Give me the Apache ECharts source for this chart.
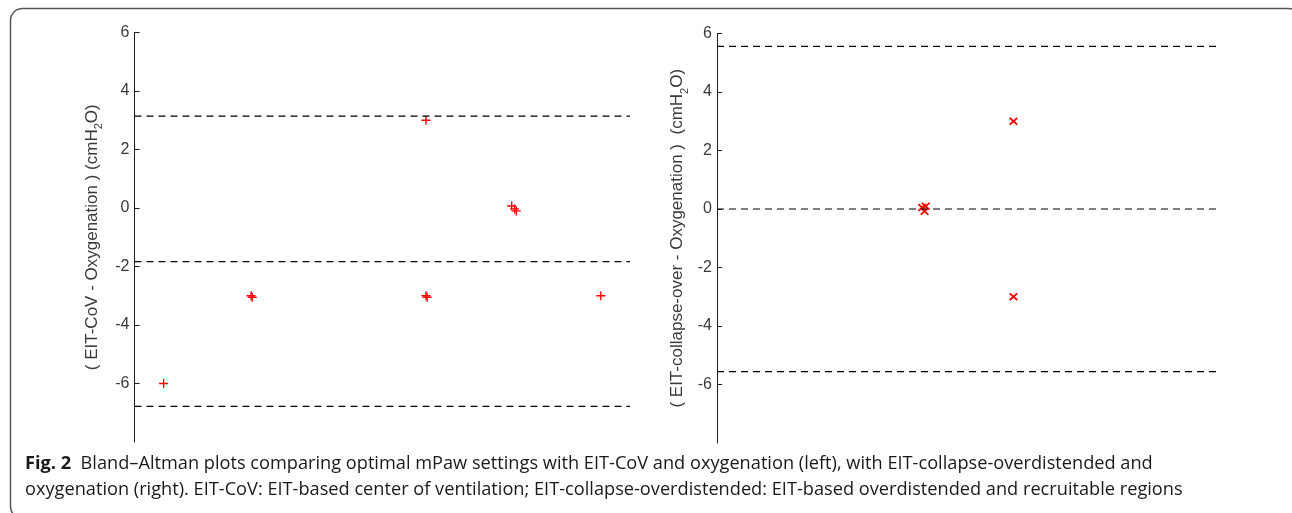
<!DOCTYPE html>
<html>
<head>
<meta charset="utf-8">
<script src="https://cdn.jsdelivr.net/npm/echarts@6/dist/echarts.min.js"></script>
<style>
html,body{margin:0;padding:0;background:#fff;}
#c{width:1292px;height:513px;}
</style>
</head>
<body>
<div id="c"></div>
<script>
// ---- data ----
var xRange = [14.5, 23];
var yTicks = [-6, -4, -2, 0, 2, 4, 6];
var yRange = [-8, 6];

// Left panel: EIT-CoV vs Oxygenation  [mean, difference]
var leftX = [15, 16.5, 16.52, 19.5, 19.52, 19.5, 20.97, 21.02, 21.05, 22.5];
var leftY = [-6, -3, -3.05, -3, -3.05, 3, 0.07, -0.03, -0.1, -3];
var leftLimits = [3.14, -1.83, -6.78]; // upper LoA, mean bias, lower LoA

// Right panel: EIT-collapse-over vs Oxygenation
var rightX = [17.96, 18.02, 18.0, 19.5, 19.5];
var rightY = [0.05, 0.09, -0.08, 3, -3];
var rightLimits = [5.56, 0, -5.56];

var leftName = '( EIT-CoV - Oxygenation ) (cmH{s|2}O)';
var rightName = '( EIT-collapse-over - Oxygenation )  (cmH{s|2}O)';
var captionBold = 'Fig. 2';
var captionLine1 = '  Bland\u2013Altman plots comparing optimal mPaw settings with EIT-CoV and oxygenation (left), with EIT-collapse-overdistended and';
var captionLine2 = 'oxygenation (right). EIT-CoV: EIT-based center of ventilation; EIT-collapse-overdistended: EIT-based overdistended and recruitable regions';

// ---- build ----
function pairs(xs, ys){ return xs.map(function(x,i){ return [x, ys[i]]; }); }
var labelColor = '#3a3a3a';
var axisColor = '#1e1e1e';

var plusPath = 'path://M4.25 0 L5.75 0 L5.75 4.25 L10 4.25 L10 5.75 L5.75 5.75 L5.75 10 L4.25 10 L4.25 5.75 L0 5.75 L0 4.25 L4.25 4.25 Z';
var crossPath = 'path://M0 1.5 L1.5 0 L5 3.5 L8.5 0 L10 1.5 L6.5 5 L10 8.5 L8.5 10 L5 6.5 L1.5 10 L0 8.5 L3.5 5 Z';

function yAxis(gi, name, gap){
  return {
    type:'value', gridIndex:gi, min:yRange[0], max:yRange[1], interval:2,
    name:name, nameLocation:'middle', nameGap:gap, nameRotate:90,
    nameTextStyle:{fontFamily:'Liberation Sans', fontSize:17, color:labelColor,
      rich:{s:{fontFamily:'Liberation Sans', fontSize:11, color:labelColor, verticalAlign:'bottom', lineHeight:25}}},
    axisLine:{show:true, onZero:false, lineStyle:{color:axisColor, width:1}},
    axisTick:{show:true, inside:true, length:5, customValues:yTicks, lineStyle:{color:axisColor}},
    axisLabel:{customValues:yTicks, fontFamily:'Liberation Sans', fontSize:16, color:labelColor, margin:5},
    splitLine:{show:false}
  };
}
function xAxis(gi){
  return {type:'value', gridIndex:gi, min:xRange[0], max:xRange[1], show:false, splitLine:{show:false}};
}
function limitSeries(gi, v){
  return {type:'line', xAxisIndex:gi, yAxisIndex:gi, data:[[xRange[0], v],[xRange[1], v]],
    symbol:'none', silent:true, animation:false,
    lineStyle:{color:'#000', width:1.2, type:[7,5]}};
}

var series = [];
leftLimits.forEach(function(v){ series.push(limitSeries(0, v)); });
rightLimits.forEach(function(v){ series.push(limitSeries(1, v)); });
series.push({type:'scatter', xAxisIndex:0, yAxisIndex:0, data:pairs(leftX,leftY), animation:false,
  symbol:plusPath, symbolSize:9,
  itemStyle:{color:'#ff0000', opacity:1}});
series.push({type:'scatter', xAxisIndex:1, yAxisIndex:1, data:pairs(rightX,rightY), animation:false,
  symbol:crossPath, symbolSize:[9,8],
  itemStyle:{color:'#ff0000', opacity:1}});

var chart = echarts.init(document.getElementById('c'));
chart.setOption({
  backgroundColor:'#fff',
  animation:false,
  grid:[
    {left:134.5, top:32.5, width:495.5, height:409.5},
    {left:717, top:33.5, width:504, height:409.5}
  ],
  xAxis:[xAxis(0), xAxis(1)],
  yAxis:[yAxis(0, leftName, 30), yAxis(1, rightName, 27)],
  series:series,
  graphic:[
    {type:'rect', shape:{x:10.5, y:8.5, width:1290, height:510, r:12},
     style:{fill:'none', stroke:'#555', lineWidth:1.5}, silent:true},
    {type:'text', left:25, top:455,
     style:{
       text:'{b|'+captionBold+'}{n|'+captionLine1+'}\n{n|'+captionLine2+'}',
       rich:{
         b:{fontFamily:'Open Sans', fontWeight:'bold', fontSize:18.2, lineHeight:26, fill:'#1a1a1a'},
         n:{fontFamily:'Open Sans', fontSize:18.2, lineHeight:26, fill:'#1a1a1a'}
       }
     }}
  ]
});
</script>
</body>
</html>
